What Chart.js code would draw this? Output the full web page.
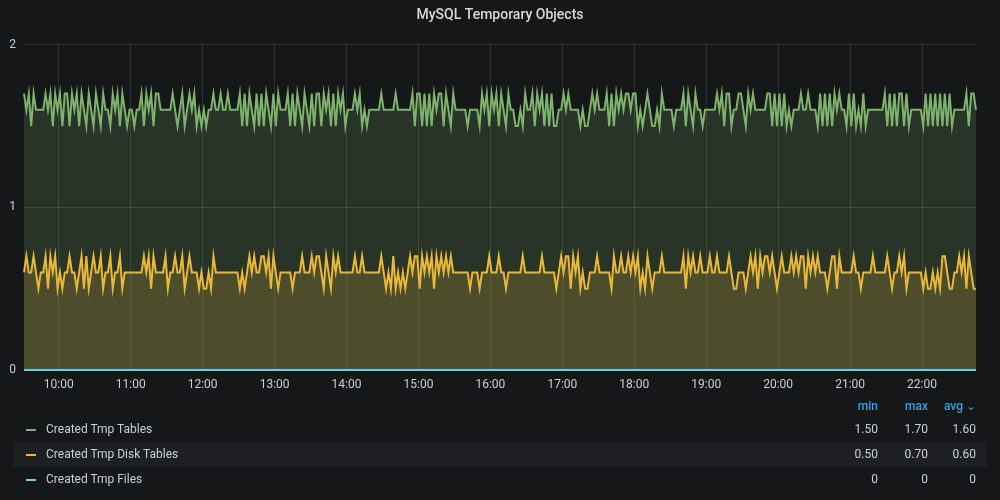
<!DOCTYPE html>
<html>
<head>
<meta charset="utf-8">
<script src="https://cdn.jsdelivr.net/npm/chart.js@4"></script>
<style>
  html, body { margin:0; padding:0; background:#161719; width:1000px; height:500px; overflow:hidden; font-family: Roboto, "Noto Sans", sans-serif; }
  #wrap { position:absolute; left:0; top:0; width:1000px; height:400px; }
  #legend { position:absolute; left:0; top:395px; width:1000px; height:105px; font-size:12px; color:#c7d0d9; }
  .hdr { position:absolute; top:4px; color:#33a2e5; font-weight:500; font-size:12px; }
  .row { position:absolute; left:13px; width:974px; height:25px; line-height:25px; }
  .row.hl { background:#1e1f22; }
  .mk { position:absolute; left:13px; top:12px; width:10px; height:2px; }
  .nm { position:absolute; left:33px; }
  .v { position:absolute; text-align:right; width:60px; }
</style>
</head>
<body>
<div id="wrap"><canvas id="c" width="1000" height="400"></canvas></div>
<div id="legend"></div>
<script>
// ---- data ----
const seriesNames = ["Created Tmp Tables", "Created Tmp Disk Tables", "Created Tmp Files"];
const seriesColors = ["#7EB26D", "#EAB839", "#6ED0E0"];
const startMinute = 571;   // 09:31
const stepMinutes = 2;
const hourTicks = [600, 660, 720, 780, 840, 900, 960, 1020, 1080, 1140, 1200, 1260, 1320];
const yTicks = [0, 1, 2];

const tmpTables = [
1.7,1.6,1.7,1.5,1.7,1.6,1.6,1.6,1.6,1.7,
1.6,1.7,1.5,1.7,1.6,1.7,1.5,1.7,1.7,1.5,
1.7,1.6,1.7,1.5,1.7,1.6,1.5,1.7,1.6,1.5,
1.7,1.6,1.5,1.7,1.6,1.6,1.5,1.7,1.6,1.7,
1.5,1.7,1.6,1.5,1.6,1.6,1.5,1.6,1.6,1.7,
1.5,1.7,1.6,1.7,1.5,1.7,1.7,1.6,1.6,1.6,
1.6,1.6,1.7,1.6,1.5,1.6,1.7,1.5,1.6,1.7,
1.6,1.7,1.5,1.6,1.5,1.6,1.5,1.6,1.6,1.7,
1.6,1.6,1.7,1.6,1.6,1.7,1.6,1.6,1.6,1.6,
1.7,1.5,1.7,1.5,1.7,1.6,1.5,1.7,1.5,1.7,
1.5,1.7,1.6,1.5,1.7,1.5,1.7,1.6,1.6,1.6,
1.7,1.5,1.7,1.5,1.7,1.6,1.5,1.7,1.6,1.5,
1.7,1.5,1.7,1.7,1.5,1.7,1.6,1.7,1.5,1.7,
1.5,1.7,1.6,1.7,1.5,1.6,1.6,1.6,1.7,1.6,
1.7,1.5,1.6,1.5,1.6,1.6,1.6,1.6,1.6,1.7,
1.6,1.6,1.6,1.6,1.6,1.7,1.6,1.6,1.6,1.6,
1.6,1.6,1.7,1.5,1.7,1.7,1.5,1.7,1.5,1.7,
1.5,1.7,1.6,1.7,1.7,1.5,1.7,1.6,1.5,1.7,
1.6,1.6,1.6,1.6,1.6,1.5,1.6,1.6,1.6,1.6,
1.5,1.7,1.6,1.7,1.5,1.7,1.6,1.7,1.5,1.7,
1.6,1.5,1.7,1.6,1.6,1.5,1.5,1.6,1.5,1.7,
1.6,1.6,1.7,1.5,1.7,1.6,1.7,1.5,1.7,1.5,
1.7,1.5,1.5,1.6,1.6,1.7,1.6,1.7,1.6,1.6,
1.6,1.6,1.5,1.6,1.5,1.5,1.6,1.7,1.6,1.7,
1.6,1.6,1.6,1.7,1.5,1.7,1.5,1.7,1.6,1.7,
1.6,1.7,1.7,1.6,1.7,1.7,1.5,1.6,1.5,1.6,
1.7,1.6,1.5,1.5,1.6,1.5,1.7,1.6,1.6,1.6,
1.6,1.5,1.6,1.6,1.6,1.7,1.5,1.7,1.6,1.5,
1.7,1.6,1.6,1.5,1.6,1.6,1.6,1.6,1.6,1.7,
1.6,1.7,1.5,1.7,1.7,1.5,1.6,1.6,1.7,1.7,
1.6,1.5,1.7,1.6,1.7,1.6,1.6,1.6,1.6,1.6,
1.7,1.7,1.5,1.7,1.5,1.7,1.5,1.7,1.5,1.6,
1.5,1.6,1.6,1.6,1.7,1.6,1.6,1.7,1.6,1.6,
1.6,1.5,1.7,1.5,1.7,1.5,1.7,1.5,1.7,1.6,
1.7,1.6,1.6,1.5,1.7,1.5,1.7,1.5,1.6,1.5,
1.7,1.5,1.6,1.6,1.6,1.6,1.6,1.6,1.6,1.7,
1.5,1.7,1.5,1.7,1.5,1.7,1.7,1.5,1.7,1.5,
1.6,1.6,1.6,1.6,1.6,1.5,1.7,1.5,1.7,1.5,
1.7,1.5,1.7,1.5,1.7,1.5,1.7,1.5,1.6,1.6,
1.6,1.6,1.6,1.7,1.5,1.7,1.7,1.6
];

const tmpDiskTables = [
0.6,0.7,0.6,0.6,0.7,0.6,0.5,0.6,0.6,0.7,
0.5,0.7,0.6,0.7,0.5,0.6,0.5,0.6,0.6,0.7,
0.6,0.6,0.5,0.6,0.7,0.5,0.7,0.5,0.6,0.7,
0.6,0.6,0.7,0.5,0.6,0.6,0.7,0.5,0.6,0.6,
0.7,0.5,0.6,0.6,0.6,0.6,0.6,0.6,0.6,0.6,
0.7,0.6,0.7,0.5,0.7,0.6,0.6,0.6,0.6,0.7,
0.5,0.6,0.6,0.7,0.6,0.6,0.7,0.5,0.6,0.7,
0.6,0.6,0.6,0.5,0.6,0.5,0.5,0.6,0.5,0.7,
0.6,0.6,0.6,0.6,0.6,0.6,0.6,0.6,0.6,0.6,
0.5,0.6,0.5,0.6,0.7,0.6,0.7,0.6,0.6,0.7,
0.7,0.6,0.7,0.5,0.7,0.6,0.5,0.6,0.6,0.6,
0.6,0.6,0.5,0.6,0.6,0.6,0.7,0.6,0.6,0.6,
0.7,0.6,0.7,0.7,0.6,0.5,0.7,0.6,0.5,0.7,
0.6,0.7,0.6,0.6,0.6,0.6,0.6,0.6,0.7,0.6,
0.6,0.7,0.6,0.6,0.6,0.6,0.6,0.6,0.6,0.7,
0.6,0.5,0.6,0.5,0.7,0.5,0.6,0.5,0.6,0.5,
0.6,0.7,0.6,0.7,0.7,0.5,0.7,0.6,0.7,0.6,
0.7,0.5,0.7,0.6,0.7,0.6,0.7,0.6,0.7,0.6,
0.6,0.6,0.6,0.6,0.6,0.6,0.5,0.6,0.6,0.6,
0.5,0.6,0.6,0.6,0.7,0.6,0.6,0.6,0.7,0.6,
0.6,0.5,0.6,0.6,0.6,0.6,0.6,0.6,0.7,0.6,
0.6,0.6,0.6,0.6,0.6,0.6,0.7,0.6,0.6,0.6,
0.6,0.6,0.5,0.6,0.7,0.6,0.7,0.7,0.5,0.7,
0.6,0.7,0.5,0.6,0.5,0.5,0.6,0.6,0.6,0.7,
0.6,0.6,0.6,0.6,0.6,0.5,0.7,0.6,0.6,0.7,
0.6,0.6,0.7,0.6,0.7,0.6,0.7,0.5,0.6,0.5,
0.7,0.6,0.5,0.6,0.6,0.6,0.7,0.6,0.6,0.6,
0.6,0.6,0.6,0.6,0.6,0.7,0.5,0.7,0.6,0.7,
0.6,0.6,0.7,0.6,0.6,0.6,0.7,0.6,0.6,0.7,
0.6,0.6,0.6,0.6,0.7,0.6,0.5,0.5,0.6,0.6,
0.6,0.5,0.6,0.7,0.6,0.7,0.5,0.7,0.6,0.7,
0.7,0.6,0.7,0.6,0.5,0.6,0.7,0.6,0.6,0.6,
0.7,0.6,0.7,0.6,0.7,0.7,0.5,0.7,0.6,0.7,
0.6,0.7,0.6,0.6,0.6,0.5,0.6,0.7,0.7,0.5,
0.7,0.6,0.6,0.6,0.6,0.6,0.7,0.6,0.6,0.5,
0.6,0.6,0.6,0.6,0.7,0.6,0.6,0.6,0.6,0.6,
0.7,0.6,0.5,0.6,0.6,0.7,0.6,0.7,0.5,0.6,
0.6,0.6,0.6,0.6,0.6,0.5,0.6,0.5,0.5,0.6,
0.5,0.6,0.5,0.7,0.7,0.6,0.5,0.5,0.6,0.6,
0.7,0.6,0.7,0.5,0.7,0.6,0.5,0.5
];

const tmpFiles = [
0,0,0,0,0,0,0,0,0,0,0,0,0,0,0,0,0,0,0,0,
0,0,0,0,0,0,0,0,0,0,0,0,0,0,0,0,0,0,0,0,
0,0,0,0,0,0,0,0,0,0,0,0,0,0,0,0,0,0,0,0,
0,0,0,0,0,0,0,0,0,0,0,0,0,0,0,0,0,0,0,0,
0,0,0,0,0,0,0,0,0,0,0,0,0,0,0,0,0,0,0,0,
0,0,0,0,0,0,0,0,0,0,0,0,0,0,0,0,0,0,0,0,
0,0,0,0,0,0,0,0,0,0,0,0,0,0,0,0,0,0,0,0,
0,0,0,0,0,0,0,0,0,0,0,0,0,0,0,0,0,0,0,0,
0,0,0,0,0,0,0,0,0,0,0,0,0,0,0,0,0,0,0,0,
0,0,0,0,0,0,0,0,0,0,0,0,0,0,0,0,0,0,0,0,
0,0,0,0,0,0,0,0,0,0,0,0,0,0,0,0,0,0,0,0,
0,0,0,0,0,0,0,0,0,0,0,0,0,0,0,0,0,0,0,0,
0,0,0,0,0,0,0,0,0,0,0,0,0,0,0,0,0,0,0,0,
0,0,0,0,0,0,0,0,0,0,0,0,0,0,0,0,0,0,0,0,
0,0,0,0,0,0,0,0,0,0,0,0,0,0,0,0,0,0,0,0,
0,0,0,0,0,0,0,0,0,0,0,0,0,0,0,0,0,0,0,0,
0,0,0,0,0,0,0,0,0,0,0,0,0,0,0,0,0,0,0,0,
0,0,0,0,0,0,0,0,0,0,0,0,0,0,0,0,0,0,0,0,
0,0,0,0,0,0,0,0,0,0,0,0,0,0,0,0,0,0,0,0,
0,0,0,0,0,0,0,0,0,0,0,0,0,0,0,0,0,0,0
];

const legendMin = ["1.50", "0.50", "0"];
const legendMax = ["1.70", "0.70", "0"];
const legendAvg = ["1.60", "0.60", "0"];

// ---- build ----
const times = tmpTables.map((_, i) => startMinute + i * stepMinutes);
const seriesValues = [tmpTables, tmpDiskTables, tmpFiles];
const fills = ["rgba(126,178,109,0.19)", "rgba(234,184,57,0.19)", "rgba(110,208,224,0.19)"];
const drawOrder = [2, 1, 0];

function fmtHour(m) {
  const h = Math.floor(m / 60), mm = m % 60;
  return String(h).padStart(2, "0") + ":" + String(mm).padStart(2, "0");
}

const FONT = "Roboto";
new Chart(document.getElementById("c"), {
  type: "line",
  data: {
    datasets: seriesValues.map((vals, k) => ({
      label: seriesNames[k],
      data: vals.map((v, i) => ({ x: times[i], y: v })),
      borderColor: seriesColors[k],
      backgroundColor: fills[k],
      borderWidth: 2,
      pointRadius: 0,
      tension: 0,
      fill: "origin",
      order: drawOrder[k],
      clip: 2
    }))
  },
  options: {
    responsive: false,
    animation: false,
    devicePixelRatio: 1,
    layout: { padding: 0 },
    plugins: {
      legend: { display: false },
      tooltip: { enabled: false },
      title: {
        display: true,
        text: "MySQL Temporary Objects",
        color: "#d8d9da",
        font: { family: FONT, size: 14, weight: "500" },
        padding: { top: 7, bottom: 21 }
      }
    },
    scales: {
      x: {
        type: "linear",
        min: startMinute,
        max: times[times.length - 1],
        afterFit: s => { s.height = 30; },
        afterBuildTicks: s => { s.ticks = hourTicks.map(v => ({ value: v })); },
        ticks: {
          callback: v => fmtHour(v),
          color: "#c7d0d9",
          font: { family: FONT, size: 12 },
          padding: 8,
          maxRotation: 0,
          autoSkip: false
        },
        grid: { color: "rgba(255,255,255,0.1)", drawTicks: false },
        border: { display: false }
      },
      y: {
        min: 0,
        max: 2,
        afterFit: s => { s.width = 24; },
        afterBuildTicks: s => { s.ticks = yTicks.map(v => ({ value: v })); },
        ticks: {
          color: "#c7d0d9",
          font: { family: FONT, size: 12 },
          padding: 8
        },
        grid: { color: "rgba(255,255,255,0.1)", drawTicks: false },
        border: { display: false }
      },
      yRight: {
        position: "right",
        min: 0,
        max: 2,
        afterFit: s => { s.width = 24; },
        ticks: { display: false },
        grid: { display: false, drawTicks: false },
        border: { display: false }
      }
    }
  }
});

// ---- legend (HTML table-style) ----
const lg = document.getElementById("legend");
const colRight = [878, 928, 976];
const hdrs = ["min", "max", "avg \u2304"];
hdrs.forEach((h, j) => {
  const d = document.createElement("div");
  d.className = "hdr";
  d.style.right = (1000 - colRight[j]) + "px";
  d.textContent = h;
  lg.appendChild(d);
});
seriesNames.forEach((name, k) => {
  const r = document.createElement("div");
  r.className = "row" + (k === 1 ? " hl" : "");
  r.style.top = (22 + k * 25) + "px";
  const mk = document.createElement("div");
  mk.className = "mk"; mk.style.background = seriesColors[k];
  r.appendChild(mk);
  const nm = document.createElement("div");
  nm.className = "nm"; nm.textContent = name;
  r.appendChild(nm);
  [legendMin[k], legendMax[k], legendAvg[k]].forEach((val, j) => {
    const v = document.createElement("div");
    v.className = "v";
    v.style.left = (colRight[j] - 13 - 60) + "px";
    v.textContent = val;
    r.appendChild(v);
  });
  lg.appendChild(r);
});
</script>
</body>
</html>
